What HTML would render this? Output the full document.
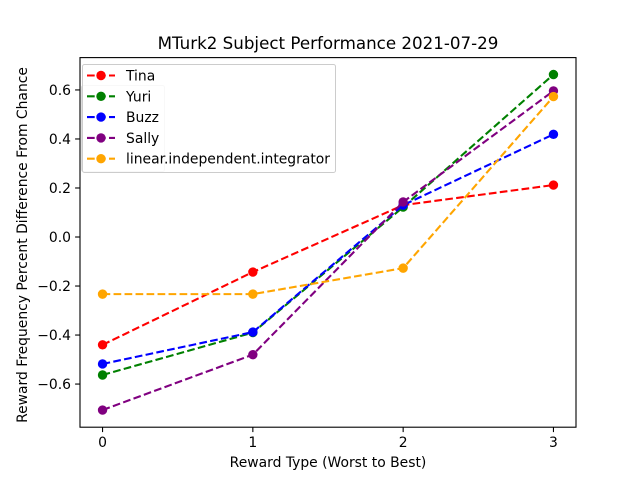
<!DOCTYPE html>
<html><head><meta charset="utf-8"><style>
body{margin:0;background:#fff}
svg{display:block;font-family:"DejaVu Sans","Liberation Sans",sans-serif}
</style></head><body>
<svg id="chart" width="640" height="480">
<rect width="640" height="480" fill="#fff"/>
<text x="328" y="49" text-anchor="middle" font-size="16.7">MTurk2 Subject Performance 2021-07-29</text>
<g id="axes"></g>
<g id="series"></g>
<g id="legend"></g>
<text x="328" y="467" text-anchor="middle" font-size="13.9">Reward Type (Worst to Best)</text>
<text transform="translate(27,245) rotate(-90)" text-anchor="middle" font-size="13.9">Reward Frequency Percent Difference From Chance</text>
</svg>
<script>
const categories = [0, 1, 2, 3];
const seriesNames = ["Tina", "Yuri", "Buzz", "Sally", "linear.independent.integrator"];
const seriesColors = ["red", "green", "blue", "purple", "orange"];
const tina = [-0.44, -0.143, 0.13, 0.212];
const yuri = [-0.563, -0.39, 0.122, 0.663];
const buzz = [-0.518, -0.388, 0.13, 0.419];
const sally = [-0.706, -0.48, 0.143, 0.596];
const integrator = [-0.233, -0.233, -0.127, 0.573];
const yTicks = [-0.6, -0.4, -0.2, 0.0, 0.2, 0.4, 0.6];
const yTickLabels = ["\u22120.6", "\u22120.4", "\u22120.2", "0.0", "0.2", "0.4", "0.6"];

const NS = "http://www.w3.org/2000/svg";
const L = 80, R = 576, T = 57.6, B = 427.2;
const xMin = -0.15, xMax = 3.15, yMin = -0.776, yMax = 0.732;
const xs = v => L + (v - xMin) / (xMax - xMin) * (R - L);
const ys = v => B - (v - yMin) / (yMax - yMin) * (B - T);
function mk(tag, attrs, parent) {
  const e = document.createElementNS(NS, tag);
  for (const k in attrs) e.setAttribute(k, attrs[k]);
  parent.appendChild(e);
  return e;
}
const axes = document.getElementById("axes");
const frame = mk("rect", {x: L, y: T, width: R - L, height: B - T, fill: "none", stroke: "#000", "stroke-width": 1.1}, axes);


categories.forEach(c => {
  const x = xs(c);
  const t = mk("line", {x1: x, x2: x, y1: B, y2: B + 4.9, stroke: "#000", "stroke-width": 1.1}, axes);
  
  
  const tx = mk("text", {x: x, y: B + 20, "text-anchor": "middle", "font-size": 13.9}, axes);
  tx.textContent = String(c);
  
  
});
yTicks.forEach((v, i) => {
  const y = ys(v);
  const t = mk("line", {x1: L - 4.9, x2: L, y1: y, y2: y, stroke: "#000", "stroke-width": 1.1}, axes);
  
  
  const tx = mk("text", {x: L - 9, y: y + 5, "text-anchor": "end", "font-size": 13.9}, axes);
  tx.textContent = yTickLabels[i];
  
  
});
const allSeries = [tina, yuri, buzz, sally, integrator];
const sg = document.getElementById("series");
allSeries.forEach((vals, si) => {
  const g = mk("g", {}, sg);
  
  
  const pts = vals.map((v, i) => xs(categories[i]) + "," + ys(v)).join(" ");
  const pl = mk("polyline", {points: pts, fill: "none", stroke: seriesColors[si], "stroke-width": 2.1, "stroke-dasharray": "7.7,3.3"}, g);
  
  
  vals.forEach((v, i) => {
    const c = mk("circle", {cx: xs(categories[i]), cy: ys(v), r: 4.7, fill: seriesColors[si]}, g);
    
    
  });
});
const lg = document.getElementById("legend");
const ghost = mk("rect", {x: 81.5, y: 85.5, width: 83, height: 86, rx: 2, fill: "#fff", "fill-opacity": 0.8, stroke: "#ddd", "stroke-width": 1}, lg);


const box = mk("rect", {x: 82.5, y: 64.5, width: 253, height: 108, rx: 2, fill: "#fff", "fill-opacity": 0.8, stroke: "#ccc", "stroke-width": 1}, lg);


seriesNames.forEach((n, i) => {
  const y = 75.5 + i * 20.8;
  const g = mk("g", {}, lg);
  
  
  mk("line", {x1: 87, x2: 115, y1: y, y2: y, stroke: seriesColors[i], "stroke-width": 2.1, "stroke-dasharray": "7.7,3.3"}, g);
  mk("circle", {cx: 101, cy: y, r: 4.7, fill: seriesColors[i]}, g);
  const t = mk("text", {x: 126, y: y + 5, "font-size": 13.9}, g);
  t.textContent = n;
});
</script>
</body></html>
